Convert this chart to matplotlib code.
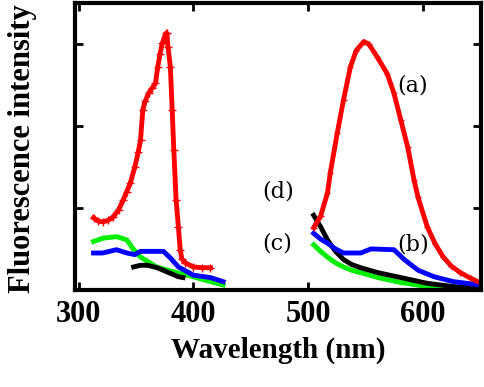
import numpy as np
import matplotlib
matplotlib.use("Agg")
import matplotlib.pyplot as plt

# excitation spectra (left part)
ex_red_x = [313, 317, 321, 326, 330, 335, 339, 342, 345, 349, 352, 354, 356, 358, 361, 364, 367, 369,
            371, 373, 376, 377, 378, 380, 381.6, 383, 385, 387, 388.6, 390, 393, 400, 408, 415]
ex_red_y = [0.88, 0.84, 0.83, 0.85, 0.89, 0.98, 1.10, 1.20, 1.30, 1.50, 1.68, 1.83, 2.2, 2.3, 2.4, 2.46, 2.52, 2.72,
            2.88, 3.01, 3.13, 3.13, 2.96, 2.72, 2.2, 1.71, 1.10, 0.77, 0.49, 0.38, 0.33, 0.28, 0.27, 0.27]
ex_green_x = [313, 321, 333, 342, 347, 354, 368, 383, 400, 415, 426]
ex_green_y = [0.59, 0.63, 0.65, 0.61, 0.51, 0.40, 0.28, 0.22, 0.16, 0.10, 0.06]
ex_blue_x = [313, 321, 333, 342, 349, 354, 374, 380, 387, 400, 415, 426]
ex_blue_y = [0.45, 0.45, 0.49, 0.45, 0.43, 0.47, 0.47, 0.39, 0.28, 0.18, 0.15, 0.10]
ex_black_x = [348, 354, 360, 368.5, 377, 387, 391]
ex_black_y = [0.28, 0.30, 0.30, 0.27, 0.22, 0.16, 0.15]

# emission spectra (right part)
em_red_x = [505, 511, 517, 519.5, 525.5, 531, 537, 542, 548.7, 553, 560.5, 569, 575, 581, 587,
            592.5, 596, 604, 611, 618, 625, 633, 642, 650]
em_red_y = [0.76, 0.90, 1.18, 1.43, 1.91, 2.32, 2.72, 2.92, 3.03, 3.00, 2.84, 2.64, 2.40, 2.07, 1.74,
            1.34, 1.13, 0.77, 0.56, 0.40, 0.29, 0.21, 0.14, 0.09]
em_blue_x = [505, 511, 517, 524, 531, 546, 555, 575, 584, 596, 610, 627, 650]
em_blue_y = [0.69, 0.62, 0.57, 0.50, 0.45, 0.45, 0.50, 0.49, 0.37, 0.24, 0.16, 0.10, 0.06]
em_black_x = [505, 511, 517, 524, 531, 538, 546, 561, 581, 604, 627, 650]
em_black_y = [0.91, 0.77, 0.61, 0.47, 0.37, 0.31, 0.27, 0.21, 0.15, 0.08, 0.04, 0.02]
em_green_x = [505, 511, 517, 524, 531, 538, 546, 561, 581, 604, 627, 650]
em_green_y = [0.55, 0.47, 0.40, 0.33, 0.28, 0.24, 0.21, 0.15, 0.09, 0.04, 0.02, 0.01]

labels = ["(a)", "(b)", "(c)", "(d)"]
label_x = [578, 578, 460, 460]
label_y = [2.5, 0.55, 0.57, 1.2]

plt.rcParams["font.family"] = "Liberation Serif"
plt.rcParams["font.weight"] = "bold"

fig = plt.figure(figsize=(4.85, 3.87), dpi=100)
ax = fig.add_axes([0.155, 0.251, 0.837, 0.741])

lw = 3.5
ax.plot(ex_green_x, ex_green_y, color="#00ee00", lw=lw)
ax.plot(ex_blue_x, ex_blue_y, color="#0000ff", lw=lw)
ax.plot(ex_black_x, ex_black_y, color="black", lw=lw)
ax.plot(ex_red_x, ex_red_y, color="red", lw=lw, marker="+", ms=6)

ax.plot(em_green_x, em_green_y, color="#00ee00", lw=lw)
ax.plot(em_black_x, em_black_y, color="black", lw=lw)
ax.plot(em_blue_x, em_blue_y, color="#0000ff", lw=lw)
ax.plot(em_red_x, em_red_y, color="red", lw=lw, marker="+", ms=5)

for s, x, y in zip(labels, label_x, label_y):
    ax.text(x, y, s, fontsize=16, family="DejaVu Serif", weight="normal", ha="left", va="center")

ax.set_xlim(297, 651)
ax.set_ylim(0, 3.5)
ax.set_xticks([300, 400, 500, 600])
ax.set_yticks([1, 2, 3])
ax.set_yticklabels([])
ax.tick_params(direction="in", top=True, right=True, length=6, width=2, labelsize=22, pad=7)
for sp in ax.spines.values():
    sp.set_linewidth(3)

ax.set_xlabel("Wavelength (nm)", fontsize=21, weight="bold", labelpad=6)
fig.text(23 / 485, 1 - 149 / 387, "Fluorescence intensity", fontsize=22, weight="bold",
         rotation=90, ha="center", va="center")

fig.savefig("out.png", dpi=100)
